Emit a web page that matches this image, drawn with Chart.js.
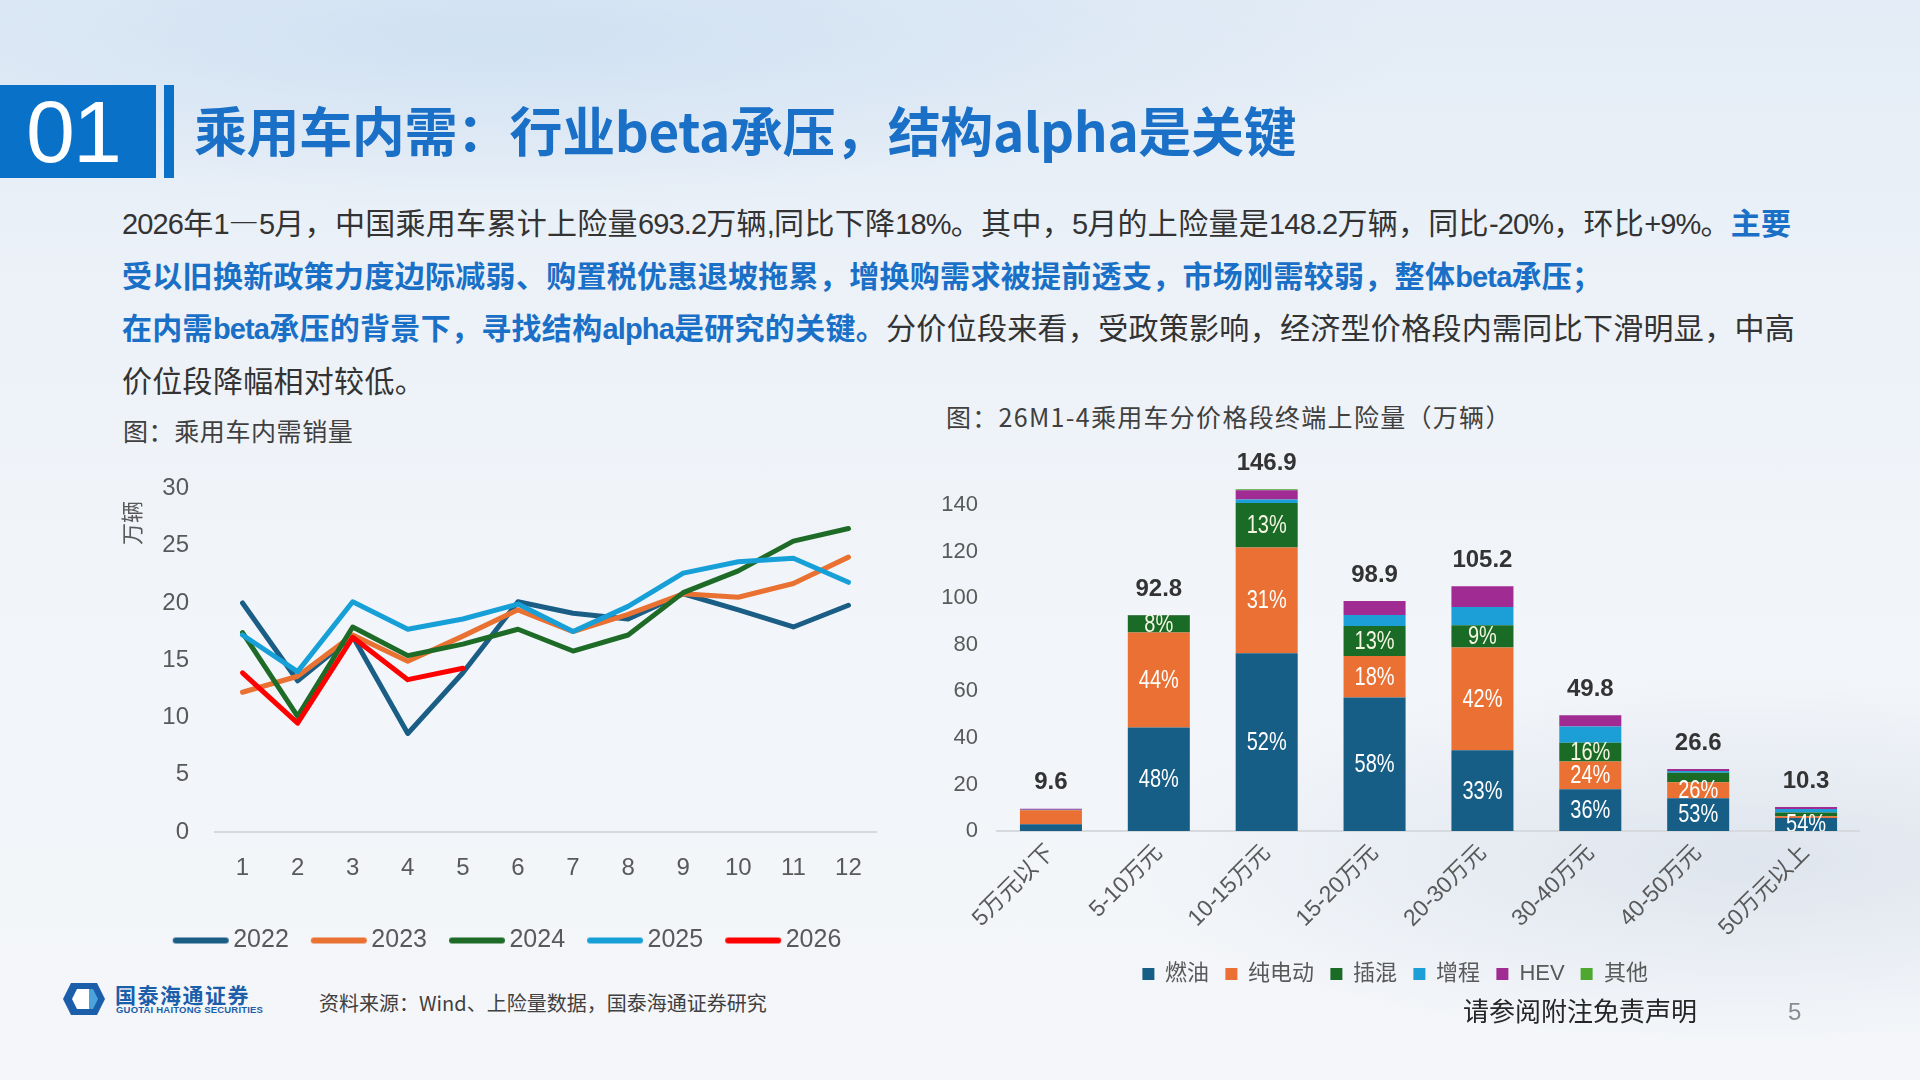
<!DOCTYPE html>
<html lang="zh-CN">
<head>
<meta charset="utf-8">
<title>乘用车内需</title>
<script src="https://cdn.jsdelivr.net/npm/chart.js@4.4.1/dist/chart.umd.min.js"></script>
<style>
    html, body {
        margin: 0;
        padding: 0;
    }
    body {
        width: 1920px;
        height: 1080px;
        position: relative;
        overflow: hidden;
        font-family: "Noto Sans CJK SC", "Noto Sans", sans-serif;
        background:
            radial-gradient(ellipse 900px 260px at 1750px 860px, rgba(205, 215, 228, 0.55), rgba(205, 215, 228, 0) 70%),
            radial-gradient(ellipse 1300px 240px at 500px 40px, rgba(200, 220, 240, 0.7), rgba(200, 220, 240, 0) 70%),
            linear-gradient(180deg, #e3ecf6 0%, #edf2f8 30%, #f2f5f9 60%, #f4f6f9 100%);
    }
    .abs { position: absolute; }
    .num-box {
        left: 0; top: 85px; width: 156px; height: 93px;
        background: #0a71c9;
        color: #fff;
        font-family: "Liberation Sans", Arial, sans-serif;
        font-size: 88px;
        line-height: 93px;
        text-indent: 26px;
        letter-spacing: -2px;
    }
    .num-bar {
        left: 164px; top: 85px; width: 10px; height: 93px;
        background: #0a71c9;
    }
    .title {
        left: 194px; top: 99px;
        font-size: 53px; line-height: 60px;
        font-weight: 700;
        color: #1a6fc6;
        white-space: nowrap;
        letter-spacing: -0.4px;
    }
    .para {
        left: 122px; top: 195px;
        font-size: 30px; line-height: 52.7px;
        color: #333;
        white-space: nowrap;
        letter-spacing: 0.3px;
    }
    .para > div { height: 52.7px; }
    .para .hl { color: #1a6fc6; font-weight: 700; }
    .para .n {
        font-family: "Liberation Sans", Arial, sans-serif;
        font-size: 29px;
        line-height: 1;
        letter-spacing: -0.85px;
    }
    .cap {
        font-size: 25px; line-height: 30px;
        color: #404040;
        white-space: nowrap;
        letter-spacing: 0.6px;
    }
    .logo {
        left: 57px; top: 982px; width: 230px; height: 34px;
    }
    .logo-cn {
        left: 115px; top: 982px;
        font-size: 21px; line-height: 24px; font-weight: 700;
        color: #1b5ea9; letter-spacing: 1.5px;
    }
    .logo-en {
        left: 116px; top: 1005px;
        font-family: "Liberation Sans", Arial, sans-serif;
        font-size: 9.5px; line-height: 10px; font-weight: 700;
        color: #1b5ea9; letter-spacing: 0.2px;
    }
    .source {
        left: 319px; top: 989px;
        font-size: 20px; line-height: 28px;
        color: #404040;
    }
    .disclaim {
        left: 1463px; top: 994px;
        font-size: 26px; line-height: 32px;
        color: #262626;
    }
    .page {
        left: 1788px; top: 998px;
        font-family: "Liberation Sans", Arial, sans-serif;
        font-size: 24px; line-height: 28px;
        color: #8c8c8c;
    }
    canvas { position: absolute; }
</style>
</head>
<body>

<div class="abs num-box">01</div>
<div class="abs num-bar"></div>
<div class="abs title">乘用车内需：行业beta承压，结构alpha是关键</div>

<div class="abs para">
    <div><span class="n">2026</span>年<span class="n">1</span>—<span class="n">5</span>月，中国乘用车累计上险量<span class="n">693.2</span>万辆<span class="n">,</span>同比下降<span class="n">18%</span>。其中，<span class="n">5</span>月的上险量是<span class="n">148.2</span>万辆，同比<span class="n">-20%</span>，环比<span class="n">+9%</span>。<span class="hl">主要</span></div>
    <div class="hl">受以旧换新政策力度边际减弱、购置税优惠退坡拖累，增换购需求被提前透支，市场刚需较弱，整体<span class="n">beta</span>承压；</div>
    <div><span class="hl">在内需<span class="n">beta</span>承压的背景下，寻找结构<span class="n">alpha</span>是研究的关键。</span>分价位段来看，受政策影响，经济型价格段内需同比下滑明显，中高</div>
    <div>价位段降幅相对较低。</div>
</div>

<div class="abs cap" style="left:123px; top:415px;">图：乘用车内需销量</div>
<div class="abs cap" style="left:946px; top:401px; letter-spacing:1.3px;">图：26M1-4乘用车分价格段终端上险量（万辆）</div>

<canvas id="salesChart" width="800" height="515" style="left:121px; top:448px;"></canvas>
<canvas id="bandChart" width="930" height="565" style="left:930px; top:430px;"></canvas>

<svg class="abs logo" viewBox="0 0 230 34">
    <path d="M14 1 L40 1 L48 17 L40 33 L14 33 L6 17 Z" fill="#1b5ea9"/>
    <path d="M20 7 L32 7 L32 27 L20 27 L15 17 Z" fill="#ffffff"/>
    <path d="M32 7 L36 7 L41 17 L36 27 L32 27 Z" fill="#4ba3dc"/>
</svg>
<div class="abs logo-cn">国泰海通证券</div>
<div class="abs logo-en">GUOTAI HAITONG SECURITIES</div>
<div class="abs source">资料来源：Wind、上险量数据，国泰海通证券研究</div>
<div class="abs disclaim">请参阅附注免责声明</div>
<div class="abs page">5</div>

<script>
// -------------------------------------------------------------------------
// Data: monthly domestic passenger car sales (万辆)
// -------------------------------------------------------------------------
const months = ['1', '2', '3', '4', '5', '6', '7', '8', '9', '10', '11', '12'];
const years = ['2022', '2023', '2024', '2025', '2026'];
const sales2022 = [20.0, 13.2, 17.1, 8.6, 13.9, 20.1, 19.1, 18.6, 20.8, 19.4, 17.9, 19.8];
const sales2023 = [12.2, 13.6, 17.2, 14.9, 17.1, 19.4, 17.5, 19.0, 20.8, 20.5, 21.7, 24.0];
const sales2024 = [17.4, 10.1, 17.9, 15.4, 16.4, 17.7, 15.8, 17.2, 20.9, 22.8, 25.4, 26.5];
const sales2025 = [17.2, 14.0, 20.1, 17.7, 18.6, 19.9, 17.5, 19.7, 22.6, 23.6, 23.9, 21.8];
const sales2026 = [13.9, 9.5, 17.0, 13.3, 14.3];
const salesTicks = [0, 5, 10, 15, 20, 25, 30];

// -------------------------------------------------------------------------
// Data: 26M1-4 insured volume by price band (万辆)
// -------------------------------------------------------------------------
const priceBands = ['5万元以下', '5-10万元', '10-15万元', '15-20万元', '20-30万元', '30-40万元', '40-50万元', '50万元以上'];
const powerTypes = ['燃油', '纯电动', '插混', '增程', 'HEV', '其他'];
const fuel  = [2.9, 44.5, 76.4, 57.4, 34.7, 17.9, 14.1, 5.6];
const bev   = [6.0, 40.8, 45.5, 17.8, 44.2, 12.0, 6.9, 0.7];
const phev  = [0.1, 7.4, 19.1, 12.9, 9.5, 8.0, 4.0, 1.6];
const erev  = [0.1, 0.0, 1.5, 4.7, 7.9, 7.0, 0.8, 1.6];
const hev   = [0.5, 0.1, 4.0, 6.1, 8.9, 4.9, 0.8, 0.8];
const other = [0.0, 0.0, 0.4, 0.0, 0.0, 0.0, 0.0, 0.0];
const bandTotals = [9.6, 92.8, 146.9, 98.9, 105.2, 49.8, 26.6, 10.3];
const fuelPct = [null, 48, 52, 58, 33, 36, 53, 54];
const bevPct  = [null, 44, 31, 18, 42, 24, 26, null];
const phevPct = [null, 8, 13, 13, 9, 16, null, null];
const bandTicks = [0, 20, 40, 60, 80, 100, 120, 140];

const GRAY = '#595959';
const AXIS = '#d6d9dd';

// -------------------------------------------------------------------------
// Line chart
// -------------------------------------------------------------------------
const lineColors = ['#1a5e86', '#e97132', '#1d6b27', '#17a0d8', '#ff0000'];
const lineSeries = [sales2022, sales2023, sales2024, sales2025, sales2026];

// legend swatch: a thick round-capped line, drawn close to the label text
function lineSwatch(color) {
    const c = document.createElement('canvas');
    c.width = 70;
    c.height = 10;
    const g = c.getContext('2d');
    g.strokeStyle = color;
    g.lineWidth = 6;
    g.lineCap = 'round';
    g.beginPath();
    g.moveTo(16, 5);
    g.lineTo(66, 5);
    g.stroke();
    return c;
}

new Chart(document.getElementById('salesChart'), {
    type: 'line',
    data: {
        labels: months,
        datasets: lineSeries.map((s, i) => ({
            label: years[i],
            data: s,
            borderColor: lineColors[i],
            backgroundColor: lineColors[i],
            borderWidth: 5,
            borderCapStyle: 'round',
            borderJoinStyle: 'round',
            pointRadius: 0,
            pointStyle: lineSwatch(lineColors[i]),
            tension: 0,
            fill: false,
            order: lineSeries.length - i
        }))
    },
    options: {
        responsive: false,
        animation: false,
        layout: { padding: { top: 0, right: 45, left: 13, bottom: 0 } },
        plugins: {
            tooltip: { enabled: false },
            legend: {
                position: 'bottom',
                labels: {
                    sort: (a, b) => a.datasetIndex - b.datasetIndex,
                    usePointStyle: true,
                    pointStyleWidth: 52,
                    boxHeight: 24,
                    padding: 18,
                    color: GRAY,
                    font: { family: 'Liberation Sans', size: 25 }
                }
            }
        },
        scales: {
            x: {
                offset: true,
                grid: { display: false, drawTicks: false },
                border: { display: true, color: AXIS, width: 2 },
                ticks: { color: GRAY, padding: 22, font: { family: 'Liberation Sans', size: 24 } },
                afterFit: (scale) => { scale.height = 78; }
            },
            y: {
                min: 0,
                max: 30,
                afterBuildTicks: (scale) => { scale.ticks = salesTicks.map(v => ({ value: v })); },
                grid: { display: false, drawTicks: false },
                border: { display: false },
                ticks: { color: GRAY, padding: 26, font: { family: 'Liberation Sans', size: 24 } },
                title: {
                    display: true,
                    text: '万辆  ',
                    align: 'end',
                    color: GRAY,
                    padding: { top: -13, bottom: 0 },
                    font: { size: 22 }
                },
                afterFit: (scale) => { scale.width = 81; }
            }
        }
    }
});

// -------------------------------------------------------------------------
// Stacked bar chart with in-bar percentages and totals
// -------------------------------------------------------------------------
const barLabels = {
    id: 'barLabels',
    afterDatasetsDraw(chart) {
        const ctx = chart.ctx;
        const area = chart.chartArea;
        ctx.save();
        ctx.beginPath();
        ctx.rect(area.left, area.top - 60, area.right - area.left, area.bottom - area.top + 60);
        ctx.clip();
        ctx.textAlign = 'center';
        ctx.textBaseline = 'middle';
        ctx.font = '25px "Liberation Sans", sans-serif';
        [fuelPct, bevPct, phevPct].forEach((pcts, di) => {
            const meta = chart.getDatasetMeta(di);
            ctx.fillStyle = di === 2 ? '#f4f6e2' : '#ffffff';
            pcts.forEach((p, i) => {
                if (p === null) return;
                const bar = meta.data[i];
                // squeeze horizontally to get the narrow look of the original labels
                ctx.save();
                ctx.translate(bar.x, (bar.y + bar.base) / 2 + 1);
                ctx.scale(0.8, 1);
                ctx.fillText(p + '%', 0, 0);
                ctx.restore();
            });
        });
        ctx.restore();

        ctx.save();
        ctx.textAlign = 'center';
        ctx.textBaseline = 'middle';
        ctx.fillStyle = '#333333';
        ctx.font = 'bold 24px "Liberation Sans", sans-serif';
        const top = chart.getDatasetMeta(chart.data.datasets.length - 1);
        bandTotals.forEach((t, i) => {
            const bar = top.data[i];
            ctx.fillText(t.toFixed(1), bar.x, bar.y - 26);
        });
        ctx.restore();
    }
};

const barColors = ['#175e87', '#ea7133', '#1a6b26', '#1c9fd6', '#a02b93', '#4ea72e'];
const barSeries = [fuel, bev, phev, erev, hev, other];

new Chart(document.getElementById('bandChart'), {
    type: 'bar',
    data: {
        labels: priceBands,
        datasets: barSeries.map((s, i) => ({
            label: powerTypes[i],
            data: s,
            backgroundColor: barColors[i],
            borderWidth: 0,
            categoryPercentage: 1,
            barPercentage: 0.575
        }))
    },
    options: {
        responsive: false,
        animation: false,
        layout: { padding: { top: 52, right: 0, left: 0, bottom: 0 } },
        plugins: {
            tooltip: { enabled: false },
            legend: {
                position: 'bottom',
                labels: {
                    boxWidth: 12,
                    boxHeight: 12,
                    padding: 16,
                    color: GRAY,
                    font: { size: 22 }
                }
            }
        },
        scales: {
            x: {
                stacked: true,
                grid: { display: false, drawTicks: false },
                border: { display: true, color: AXIS, width: 2 },
                ticks: {
                    color: GRAY,
                    padding: 8,
                    minRotation: 45,
                    maxRotation: 45,
                    font: { size: 23 }
                },
                afterFit: (scale) => { scale.height = 116; }
            },
            y: {
                stacked: true,
                min: 0,
                max: 150,
                afterBuildTicks: (scale) => { scale.ticks = bandTicks.map(v => ({ value: v })); },
                grid: { display: false, drawTicks: false },
                border: { display: false },
                ticks: { color: GRAY, padding: 19, font: { family: 'Liberation Sans', size: 22 } },
                afterFit: (scale) => { scale.width = 67; }
            }
        }
    },
    plugins: [barLabels]
});
</script>
</body>
</html>
